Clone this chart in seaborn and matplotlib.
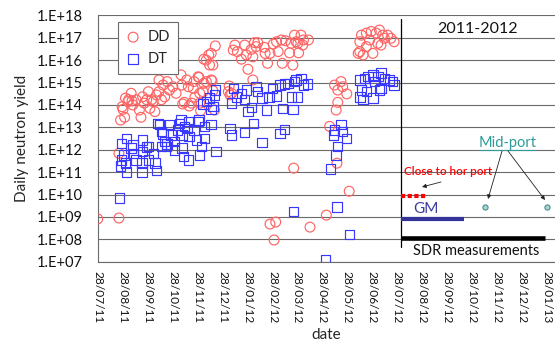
import numpy as np
import pandas as pd
import matplotlib
matplotlib.use("Agg")
import matplotlib.pyplot as plt
import matplotlib.dates as mdates
from matplotlib.ticker import FuncFormatter, NullLocator
import seaborn as sns

# ---------------------------------------------------------------------------
# Daily neutron yield, DD and DT operation (2011-2012 campaign)
# ---------------------------------------------------------------------------
dd_dates = [
    "2011-07-28", "2011-08-23", "2011-08-23", "2011-08-25", "2011-08-27",
    "2011-08-28", "2011-08-30", "2011-08-31", "2011-09-03", "2011-09-04",
    "2011-09-07", "2011-09-08", "2011-09-09", "2011-09-13", "2011-09-17",
    "2011-09-19", "2011-09-21", "2011-09-23", "2011-09-26", "2011-09-28",
    "2011-09-30", "2011-10-02", "2011-10-04", "2011-10-06", "2011-10-08",
    "2011-10-11", "2011-10-11", "2011-10-14", "2011-10-16", "2011-10-18",
    "2011-10-21", "2011-10-24", "2011-10-28", "2011-11-01", "2011-11-07",
    "2011-11-08", "2011-11-09", "2011-11-11", "2011-11-14", "2011-11-16",
    "2011-11-17", "2011-11-20", "2011-11-22", "2011-11-23", "2011-11-24",
    "2011-11-28", "2011-11-29", "2011-11-30", "2011-11-30", "2011-12-01",
    "2011-12-04", "2011-12-05", "2011-12-08", "2011-12-14", "2011-12-15",
    "2011-12-16", "2011-12-18", "2012-01-04", "2012-01-05", "2012-01-06",
    "2012-01-08", "2012-02-03",
    "2011-12-05", "2011-12-08", "2011-12-11", "2011-12-12", "2011-12-14",
    "2011-12-16", "2011-12-19", "2012-01-10", "2012-01-12", "2012-01-15",
    "2012-01-20", "2012-01-24", "2012-01-26", "2012-01-28", "2012-02-01",
    "2012-02-03", "2012-02-05", "2012-02-07", "2012-02-09", "2012-02-17",
    "2012-02-18", "2012-02-21", "2012-02-24", "2012-02-28", "2012-03-03",
    "2012-03-05", "2012-03-09", "2012-03-10", "2012-03-14", "2012-03-19",
    "2012-03-21", "2012-03-23", "2012-03-25", "2012-03-27", "2012-03-29",
    "2012-03-30", "2012-04-02", "2012-04-04", "2012-04-05", "2012-04-11",
    "2012-02-24", "2012-02-29", "2012-03-02", "2012-03-24", "2012-04-13",
    "2012-05-03", "2012-05-07", "2012-05-13", "2012-05-15", "2012-05-16",
    "2012-05-17", "2012-05-17", "2012-05-21", "2012-05-23", "2012-05-28",
    "2012-05-31",
    "2012-06-11", "2012-06-13", "2012-06-13", "2012-06-15", "2012-06-17",
    "2012-06-21", "2012-06-21", "2012-06-25", "2012-06-27", "2012-06-29",
    "2012-07-03", "2012-07-05", "2012-07-07", "2012-07-09", "2012-07-11",
    "2012-07-13", "2012-07-17", "2012-07-21", "2012-07-25",
]
dd_yield = [
    8.1e8, 8.9e8, 6.9e11, 2.1e13, 8.3e13,
    6.3e13, 2.8e13, 2.0e14, 1.4e14, 1.7e14,
    3.3e14, 1.5e14, 1.0e14, 1.7e14, 5.9e13,
    2.8e13, 2.3e14, 1.2e14, 1.7e14, 3.9e14,
    7.0e13, 1.7e14, 1.4e14, 5.0e13, 2.8e14,
    3.9e14, 1.3e15, 1.7e14, 7.7e14, 2.3e14,
    1.1e15, 4.6e14, 6.5e14, 3.3e14, 2.2e15,
    7.7e14, 1.1e14, 1.3e14, 1.3e15, 6.5e14,
    8.9e13, 1.2e14, 5.5e14, 1.1e15, 2.2e14,
    1.8e15, 1.7e15, 3.3e14, 1.2e14, 5.5e13,
    3.9e14, 9.2e14, 1.1e15, 1.3e15, 1.2e15,
    4.3e14, 5.9e13, 3.9e14, 7.0e14, 2.8e14,
    3.3e14, 1.3e15,
    1.1e16, 1.0e16, 1.7e16, 6.0e15, 2.0e16,
    6.0e15, 4.3e16, 2.8e16, 4.7e16, 2.4e16,
    1.1e16, 4.7e16, 1.7e16, 3.9e15, 3.0e16,
    1.4e16, 6.0e16, 4.0e16, 6.0e16, 3.7e16,
    2.0e16, 7.2e15, 2.0e16, 5.2e16, 6.6e16,
    2.4e16, 7.9e16, 7.2e15, 7.3e16, 2.1e16,
    5.6e16, 6.0e15, 1.3e17, 6.6e16, 5.6e16,
    2.1e16, 1.3e17, 4.7e16, 7.9e16, 7.9e16,
    4.8e8, 9.3e7, 5.9e8, 1.5e11, 3.5e8,
    1.2e9, 1.1e13, 7.7e14, 5.9e13, 2.5e11,
    4.6e14, 1.3e14, 1.1e15, 6.5e14, 3.1e14,
    1.4e10,
    2.0e16, 2.4e16, 6.6e16, 1.3e17, 1.7e16,
    1.6e17, 4.0e16, 7.9e16, 1.9e17, 2.0e16,
    1.6e17, 5.6e16, 2.2e17, 4.7e16, 1.3e17,
    9.4e16, 1.3e17, 9.4e16, 6.6e16,
]

dt_dates = [
    "2011-08-24", "2011-08-25", "2011-08-26", "2011-08-26", "2011-08-29",
    "2011-08-31", "2011-09-01", "2011-09-01", "2011-09-07", "2011-09-09",
    "2011-09-09", "2011-09-13", "2011-09-20", "2011-09-20", "2011-09-21",
    "2011-09-21", "2011-09-26", "2011-09-28", "2011-09-28", "2011-10-04",
    "2011-10-06", "2011-10-08", "2011-10-10", "2011-10-12", "2011-10-14",
    "2011-10-14", "2011-10-16", "2011-10-18", "2011-10-20", "2011-10-21",
    "2011-10-24", "2011-10-26", "2011-10-30", "2011-10-30", "2011-11-03",
    "2011-11-05", "2011-11-07", "2011-11-08", "2011-11-08", "2011-11-10",
    "2011-11-11", "2011-11-15", "2011-11-16", "2011-11-17", "2011-11-17",
    "2011-11-23", "2011-11-26", "2011-11-28", "2011-11-29", "2011-11-30",
    "2011-12-02", "2011-12-06", "2011-12-06", "2011-12-14", "2011-12-20",
    "2012-01-06", "2012-01-08", "2012-01-24", "2012-02-04", "2012-02-14",
    "2012-03-07", "2012-03-13",
    "2011-12-04", "2011-12-08", "2011-12-12", "2011-12-14", "2011-12-16",
    "2011-12-18", "2011-12-19", "2012-01-08", "2012-01-10", "2012-01-14",
    "2012-01-20", "2012-01-24", "2012-01-26", "2012-01-28", "2012-02-01",
    "2012-02-07", "2012-02-09", "2012-02-14", "2012-02-20", "2012-02-23",
    "2012-02-27", "2012-03-03", "2012-03-07", "2012-03-10", "2012-03-13",
    "2012-03-17", "2012-03-21", "2012-03-23", "2012-03-25", "2012-03-27",
    "2012-03-29", "2012-04-02", "2012-04-05", "2012-04-10",
    "2012-03-24", "2012-05-02", "2012-05-08", "2012-05-13", "2012-05-12",
    "2012-05-15", "2012-05-16", "2012-05-17", "2012-05-21", "2012-05-23",
    "2012-05-28", "2012-05-31",
    "2012-06-13", "2012-06-13", "2012-06-15", "2012-06-17", "2012-06-19",
    "2012-06-21", "2012-06-23", "2012-06-29", "2012-06-29", "2012-07-01",
    "2012-07-05", "2012-07-07", "2012-07-09", "2012-07-09", "2012-07-13",
    "2012-07-19", "2012-07-23", "2012-07-25",
]
dt_yield = [
    6.9e9, 1.9e11, 3.5e11, 1.9e12, 5.8e11,
    2.6e11, 1.0e11, 3.2e12, 1.2e12, 6.9e11,
    1.6e12, 3.5e11, 2.6e11, 1.0e11, 8.1e11,
    2.7e12, 1.3e12, 3.5e11, 1.4e12, 6.9e11,
    2.5e11, 1.2e11, 1.5e13, 1.3e13, 6.4e12,
    1.4e12, 5.0e12, 2.3e12, 1.4e12, 1.8e12,
    1.3e13, 4.5e12, 2.3e12, 9.7e11, 7.6e12,
    1.5e13, 2.2e13, 4.5e12, 1.2e12, 4.9e11,
    1.1e13, 9.0e12, 3.5e11, 1.8e13, 4.0e12,
    7.6e12, 2.7e12, 1.8e13, 2.1e13, 5.8e11,
    1.4e12, 1.1e13, 3.2e12, 1.3e13, 8.1e11,
    9.0e12, 4.5e12, 5.7e12, 1.5e13, 2.1e12,
    5.4e12, 8.1e12,
    1.1e14, 1.4e14, 2.0e14, 6.3e13, 8.3e13,
    2.8e14, 4.6e14, 1.2e14, 5.5e14, 2.3e14,
    3.3e14, 1.7e14, 4.6e14, 5.0e13, 7.8e13,
    6.5e14, 3.9e14, 2.0e14, 5.9e13, 2.3e14,
    5.5e14, 2.5e14, 7.7e14, 7.0e13, 8.6e14,
    9.2e14, 2.3e14, 6.3e13, 1.1e15, 1.3e15,
    2.3e14, 1.5e15, 7.7e14, 8.6e14,
    1.7e9, 1.2e7, 1.4e11, 7.6e12, 4.5e12,
    5.8e11, 2.8e9, 1.4e12, 1.3e13, 6.4e12,
    3.2e12, 1.6e8,
    1.3e15, 2.3e14, 4.6e14, 1.7e14, 1.5e15,
    3.9e14, 1.8e15, 2.2e15, 2.0e14, 1.1e15,
    1.8e15, 4.6e14, 2.6e15, 5.5e14, 1.5e15,
    1.3e15, 1.1e15, 7.7e14,
]

tick_dates = [
    "2011-07-28", "2011-08-28", "2011-09-28", "2011-10-28", "2011-11-28",
    "2011-12-28", "2012-01-28", "2012-02-28", "2012-03-28", "2012-04-28",
    "2012-05-28", "2012-06-28", "2012-07-28", "2012-08-28", "2012-09-28",
    "2012-10-28", "2012-11-28", "2012-12-28", "2013-01-28",
]
x_start = "2011-07-28"
x_end = "2013-02-07"

# measurement campaign after the 2011-2012 operation
campaign_start = "2012-08-03"
hor_port_end, hor_port_level = "2012-09-02", 9.0e9
gm_end, gm_level = "2012-10-19", 8.0e8
sdr_end, sdr_level = "2013-01-26", 1.2e8
midport_dates = ["2012-11-13", "2013-01-28"]
midport_yield = [2.7e9, 2.7e9]

# ---------------------------------------------------------------------------
sns.set_theme(style="white")
plt.rcParams["font.family"] = ["Lato", "DejaVu Sans"]

W, H = 555, 343
fig = plt.figure(figsize=(W / 100, H / 100), dpi=100)
ax_l, ax_r, ax_t, ax_b = 97.7, 555.0, 15.3, 261.7
ax = fig.add_axes([ax_l / W, 1 - ax_b / H, (ax_r - ax_l) / W, (ax_b - ax_t) / H])

dd = pd.DataFrame({"date": pd.to_datetime(dd_dates), "yield": dd_yield})
dt = pd.DataFrame({"date": pd.to_datetime(dt_dates), "yield": dt_yield})

sns.scatterplot(data=dd, x="date", y="yield", marker="o", s=50,
                facecolor="none", edgecolor="#ff6464", linewidth=0.85,
                label="DD", ax=ax, zorder=3)
sns.scatterplot(data=dt, x="date", y="yield", marker="s", s=46,
                facecolor="none", edgecolor="#3838ff", linewidth=0.85,
                label="DT", ax=ax, zorder=3)

ax.set_yscale("log")
ax.set_ylim(1e7, 1e18)
ax.set_xlim(pd.Timestamp(x_start), pd.Timestamp(x_end))

ax.set_yticks(10.0 ** np.arange(7, 19))
ax.yaxis.set_major_formatter(
    FuncFormatter(lambda v, p: f"1.E+{int(round(np.log10(v))):02d}"))
ax.yaxis.set_minor_locator(NullLocator())
ax.set_xticks(pd.to_datetime(tick_dates))
ax.xaxis.set_major_formatter(mdates.DateFormatter("%d/%m/%y"))

ax.tick_params(axis="y", labelsize=10.5, length=3.5, width=0.8,
               color="#6e6e6e", pad=7, labelcolor="#111111")
ax.tick_params(axis="x", labelsize=8.6, length=3, width=0.8,
               color="#6e6e6e", pad=4, labelrotation=-90, labelcolor="#111111")

ax.grid(axis="y", color="#6a6a6a", linewidth=0.8)
ax.grid(axis="x", visible=False)
ax.set_axisbelow(True)
for side in ("top", "right"):
    ax.spines[side].set_visible(False)
for side in ("left", "bottom"):
    ax.spines[side].set_color("#6a6a6a")
    ax.spines[side].set_linewidth(0.8)

ax.set_xlabel("date", fontsize=11)
ax.xaxis.set_label_coords(0.5, -0.268)
ax.set_ylabel("Daily neutron yield", fontsize=11, labelpad=6)

leg = ax.legend(loc="upper left", bbox_to_anchor=(0.044, 0.973),
                borderaxespad=0, fontsize=10.5, frameon=True, fancybox=False,
                edgecolor="#6a6a6a", framealpha=1, handlelength=1.0,
                handletextpad=0.5, labelspacing=0.55, borderpad=0.55,
                markerscale=1.0)
leg.get_frame().set_linewidth(0.8)

# campaign overlay
ax.axvline(pd.Timestamp(campaign_start), ymin=0.06, ymax=0.985,
           color="black", linewidth=0.9, zorder=2)
ax.plot(pd.to_datetime([campaign_start, hor_port_end]), [hor_port_level] * 2,
        color="#ff0000", linewidth=3, dashes=(1.0, 0.6), dash_capstyle="butt",
        zorder=4)
ax.plot(pd.to_datetime([campaign_start, gm_end]), [gm_level] * 2,
        color="#333399", linewidth=3, solid_capstyle="butt", zorder=4)
ax.plot(pd.to_datetime([campaign_start, sdr_end]), [sdr_level] * 2,
        color="black", linewidth=3.3, solid_capstyle="butt", zorder=4)
sns.scatterplot(x=pd.to_datetime(midport_dates), y=midport_yield, marker="o",
                s=14, facecolor="#a9d3d3", edgecolor="#4f8f8f", linewidth=0.8,
                ax=ax, zorder=5, legend=False)

tr = ax.transAxes
ax.text(0.8316, 0.9445, "2011-2012", transform=tr, ha="center", va="center",
        fontsize=11.5, color="#111111")
ax.text(0.670, 0.368, "Close to hor port", transform=tr, ha="left",
        va="center", fontsize=8.5, fontweight="semibold", color="#ff0000")
ax.annotate("", xy=(0.7092, 0.3032), xytext=(0.7507, 0.3235),
            xycoords="axes fraction", textcoords="axes fraction",
            arrowprops=dict(arrowstyle="-|>", color="#222222", lw=0.6,
                            mutation_scale=6, shrinkA=0, shrinkB=0))
ax.text(0.8337, 0.482, "Mid-port", transform=tr, ha="left", va="center",
        fontsize=10.5, color="#2e9a9a")
ax.plot([0.8337, 0.9561], [0.4533, 0.4533], transform=tr, color="#2e9a9a",
        linewidth=0.8, clip_on=False)
for end in [(0.8535, 0.2545), (0.9781, 0.2504)]:
    start = (0.8842, 0.4493) if end[0] < 0.9 else (0.8972, 0.4493)
    ax.annotate("", xy=end, xytext=start, xycoords="axes fraction",
                textcoords="axes fraction",
                arrowprops=dict(arrowstyle="-|>", color="#222222", lw=0.6,
                                mutation_scale=6, shrinkA=0, shrinkB=0))
ax.text(0.690, 0.214, "GM", transform=tr, ha="left", va="center",
        fontsize=11, color="#3b3b9b")
ax.text(0.690, 0.0434, "SDR measurements", transform=tr, ha="left",
        va="center", fontsize=10.5, color="#111111")

fig.savefig("out.png", dpi=100)
